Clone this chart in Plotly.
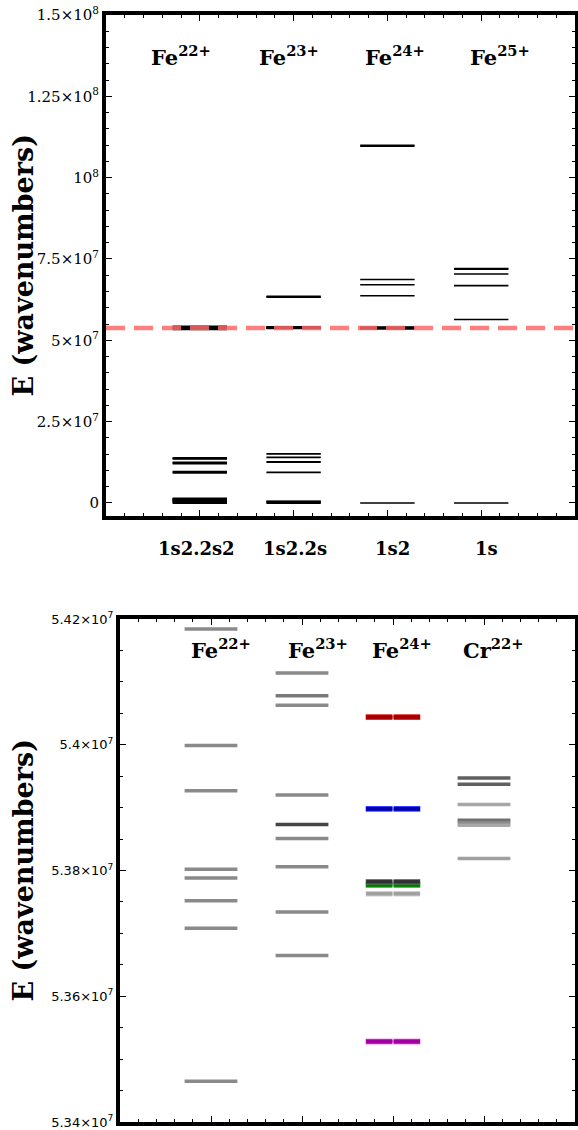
import plotly.graph_objects as go

W, H = 578, 1130

# ---------------- data ----------------
ion_x = [1, 2, 3, 4]

top_ion_labels = ["Fe<sup>22+</sup>", "Fe<sup>23+</sup>", "Fe<sup>24+</sup>", "Fe<sup>25+</sup>"]
top_ion_label_x = [0.80, 1.95, 3.08, 4.20]
top_ion_label_y = 1.375e8

configs = ["1s2.2s2", "1s2.2s", "1s2", "1s"]
config_x = [0.97, 2.02, 3.05, 4.06]

# energy levels (cm^-1), full range panel
fe22_levels = [0, 3.9e5, 5.0e5, 7.5e5, 1.05e6, 1.2e6, 1.35e6,
               9.3e6, 9.55e6, 1.22e7, 1.245e7, 1.36e7, 1.38e7]
fe23_levels = [0, 3.9e5, 5.2e5, 9.44e6, 1.26e7, 1.405e7, 1.507e7, 6.33e7, 6.35e7]
fe24_levels = [0, 6.37e7, 6.71e7, 6.87e7, 1.0965e8, 1.0995e8]
fe25_levels = [0, 5.64e7, 6.68e7, 7.04e7, 7.19e7, 7.21e7]

# zoomed K-alpha window levels
fe22_window = [5.4184e7, 5.3999e7, 5.3927e7, 5.3802e7, 5.3788e7, 5.3752e7, 5.3708e7, 5.3465e7]
fe22_window_colors = ["#8a8a8a"] * 8
fe23_window = [5.4114e7, 5.4078e7, 5.4063e7, 5.3920e7, 5.3873e7, 5.3851e7, 5.3806e7, 5.3734e7, 5.3665e7]
fe23_window_colors = ["#8a8a8a", "#7a7a7a", "#8a8a8a", "#8a8a8a", "#454545",
                      "#8a8a8a", "#8a8a8a", "#8a8a8a", "#8a8a8a"]
fe24_window = [5.4044e7, 5.3898e7, 5.3777e7, 5.3782e7, 5.3763e7, 5.3528e7]
fe24_window_colors = ["#a00000", "#0000a8", "#007800", "#303030", "#a0a0a0", "#a000a0"]
fe24_window_edges = ["#e00000", "#2020ff", "#00b000", "#707070", "#d0d0d0", "#e020e0"]
cr22_window = [5.3947e7, 5.3937e7, 5.3905e7, 5.3880e7, 5.3876e7, 5.3872e7, 5.3819e7]
cr22_window_colors = ["#606060", "#606060", "#a8a8a8", "#707070", "#8a8a8a", "#a8a8a8", "#a0a0a0"]

bottom_ion_labels = ["Fe<sup>22+</sup>", "Fe<sup>23+</sup>", "Fe<sup>24+</sup>", "Cr<sup>22+</sup>"]
bottom_ion_label_x = [1.11, 2.18, 3.10, 4.10]
bottom_ion_label_y = 5.4152e7

ref_line = 5.38e7

top_tickvals = [0, 2.5e7, 5e7, 7.5e7, 1e8, 1.25e8, 1.5e8]
top_ticktext = ["0", "2.5×10<sup>7</sup>", "5×10<sup>7</sup>", "7.5×10<sup>7</sup>",
                "10<sup>8</sup>", "1.25×10<sup>8</sup>", "1.5×10<sup>8</sup>"]
bot_tickvals = [5.34e7, 5.36e7, 5.38e7, 5.40e7, 5.42e7]
bot_ticktext = ["5.34×10<sup>7</sup>", "5.36×10<sup>7</sup>", "5.38×10<sup>7</sup>",
                "5.4×10<sup>7</sup>", "5.42×10<sup>7</sup>"]

HALF = 0.29

# ---------------- helpers ----------------
def levels_trace(xc, vals, color, width, xa, ya, half=HALF, gap=0.0):
    xs, ys = [], []
    for v in vals:
        if gap > 0:
            xs += [xc - half, xc - gap, None, xc + gap, xc + half, None]
            ys += [v, v, None, v, v, None]
        else:
            xs += [xc - half, xc + half, None]
            ys += [v, v, None]
    return go.Scatter(x=xs, y=ys, mode="lines", line=dict(color=color, width=width),
                      xaxis=xa, yaxis=ya, showlegend=False, hoverinfo="skip")

fig = go.Figure()

# ---- top panel ----
all_top = [fe22_levels + fe22_window, fe23_levels + fe23_window,
           fe24_levels + fe24_window, fe25_levels]
top_widths = [2.2, 1.8, 1.6, 1.6]
for xc, vals, w in zip(ion_x, all_top, top_widths):
    fig.add_trace(levels_trace(xc, vals, "black", w, "x", "y"))

fig.add_trace(go.Scatter(x=[0, 5], y=[ref_line, ref_line], mode="lines",
                         line=dict(color="rgba(255,105,105,0.85)", width=4.5, dash="19px,9px"),
                         xaxis="x", yaxis="y", showlegend=False, hoverinfo="skip"))

# ---- bottom panel ----
for v, c in zip(fe22_window, fe22_window_colors):
    fig.add_trace(levels_trace(1, [v], c, 3.5, "x2", "y2"))
for v, c in zip(fe23_window, fe23_window_colors):
    fig.add_trace(levels_trace(2, [v], c, 3.5, "x2", "y2"))
for v, c, e in zip(fe24_window, fe24_window_colors, fe24_window_edges):
    fig.add_trace(levels_trace(3, [v], e, 5.5, "x2", "y2", half=0.3, gap=0.006))
    fig.add_trace(levels_trace(3, [v], c, 3.5, "x2", "y2", half=0.295, gap=0.006))
for v, c in zip(cr22_window, cr22_window_colors):
    fig.add_trace(levels_trace(4, [v], c, 3.5, "x2", "y2"))

# ---------------- layout ----------------
axis_common = dict(showgrid=False, zeroline=False, showline=True, linecolor="black",
                   linewidth=4, mirror="allticks", ticks="inside", tickcolor="black",
                   tickwidth=1.2, automargin=False)

top_dom_y = [1 - 516 / H, 1 - 15 / H]
bot_dom_y = [1 - 1122 / H, 1 - 619 / H]

fig.update_layout(
    template="none",
    width=W, height=H, margin=dict(l=0, r=0, t=0, b=0, pad=0, autoexpand=False),
    paper_bgcolor="white", plot_bgcolor="white", showlegend=False,
    xaxis=dict(domain=[106 / W, 575 / W], range=[0, 5], anchor="y",
               tickmode="array", tickvals=[0, 1, 2, 3, 4, 5], ticklen=6,
               showticklabels=False,
               minor=dict(tickmode="linear", tick0=0, dtick=0.2, ticklen=3,
                          ticks="inside", tickcolor="black", showgrid=False),
               **axis_common),
    yaxis=dict(domain=top_dom_y, range=[-4e6, 1.5e8], anchor="x",
               tickmode="array", tickvals=top_tickvals, ticktext=top_ticktext, ticklen=6,
               tickfont=dict(family="DejaVu Serif", size=15, color="black"),
               minor=dict(tickmode="linear", tick0=0, dtick=5e6, ticklen=3,
                          ticks="inside", tickcolor="black", showgrid=False),
               **axis_common),
    xaxis2=dict(domain=[120 / W, 575 / W], range=[0, 5], anchor="y2",
                tickmode="array", tickvals=[0, 1, 2, 3, 4, 5], ticklen=6,
                showticklabels=False,
                minor=dict(tickmode="linear", tick0=0, dtick=0.2, ticklen=3,
                           ticks="inside", tickcolor="black", showgrid=False),
                **axis_common),
    yaxis2=dict(domain=bot_dom_y, range=[5.34e7, 5.42e7], anchor="x2",
                tickmode="array", tickvals=bot_tickvals, ticktext=bot_ticktext, ticklen=6,
                tickfont=dict(family="DejaVu Sans", size=13, color="black"),
                minor=dict(tickmode="linear", tick0=5.34e7, dtick=5e4, ticklen=3,
                           ticks="inside", tickcolor="black", showgrid=False),
                **axis_common),
)

ann = []
title_font = dict(family="DejaVu Serif", size=27, color="black")
for yc in [(top_dom_y[0] + top_dom_y[1]) / 2, (bot_dom_y[0] + bot_dom_y[1]) / 2]:
    ann.append(dict(text="<b>E (wavenumbers)</b>", xref="paper", yref="paper",
                    x=23 / W, y=yc, textangle=-90, showarrow=False,
                    xanchor="center", yanchor="middle", font=title_font))

label_font = dict(family="DejaVu Serif", size=21, color="black")
for t, x in zip(top_ion_labels, top_ion_label_x):
    ann.append(dict(text="<b>" + t + "</b>", x=x, y=top_ion_label_y, xref="x", yref="y",
                    showarrow=False, xanchor="center", yanchor="middle", font=label_font))
for t, x in zip(bottom_ion_labels, bottom_ion_label_x):
    ann.append(dict(text="<b>" + t + "</b>", x=x, y=bottom_ion_label_y, xref="x2", yref="y2",
                    showarrow=False, xanchor="center", yanchor="middle", font=label_font))

cfg_font = dict(family="DejaVu Serif", size=18, color="black")
for t, x in zip(configs, config_x):
    ann.append(dict(text="<b>" + t + "</b>", x=x, y=1 - 548 / H, xref="x", yref="paper",
                    showarrow=False, xanchor="center", yanchor="middle", font=cfg_font))

fig.update_layout(annotations=ann)

fig.write_html("out.html")
